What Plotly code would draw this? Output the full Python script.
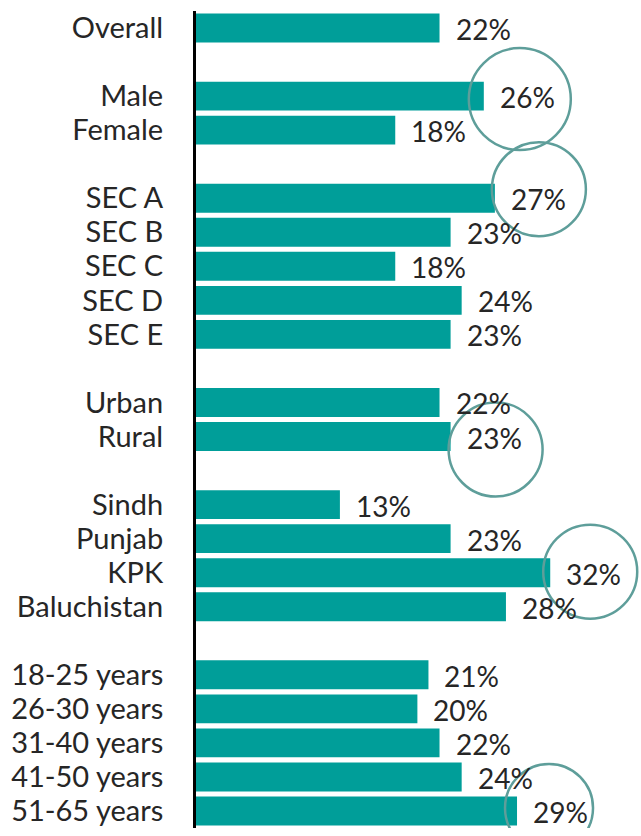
import plotly.graph_objects as go

# ---- data ----
groups = [
    ["Overall"],
    ["Male", "Female"],
    ["SEC A", "SEC B", "SEC C", "SEC D", "SEC E"],
    ["Urban", "Rural"],
    ["Sindh", "Punjab", "KPK", "Baluchistan"],
    ["18-25 years", "26-30 years", "31-40 years", "41-50 years", "51-65 years"],
]
values = {
    "Overall": 22,
    "Male": 26, "Female": 18,
    "SEC A": 27, "SEC B": 23, "SEC C": 18, "SEC D": 24, "SEC E": 23,
    "Urban": 22, "Rural": 23,
    "Sindh": 13, "Punjab": 23, "KPK": 32, "Baluchistan": 28,
    "18-25 years": 21, "26-30 years": 20, "31-40 years": 22, "41-50 years": 24, "51-65 years": 29,
}
highlighted = ["Male", "SEC A", "Rural", "KPK", "51-65 years"]

# ---- style ----
BAR = "#009E99"
RING = "#5E9E9A"
TXT = "#262626"
FONT = "Lato"
FS = 29
# circle pixel offsets (dx, dy, r) relative to bar end, per highlighted category
ring_style = {
    "Male": (36, 3, 51),
    "SEC A": (44, -9, 47),
    "Rural": (45, 13, 47),
    "KPK": (40, -1, 47),
    "51-65 years": (32, -3, 44),
}

# build categories with spacer rows between groups
cats, xs = [], []
for gi, g in enumerate(groups):
    if gi > 0:
        sp = "\u200b" * gi
        cats.append(sp)
        xs.append(None)
    for c in g:
        cats.append(c)
        xs.append(values[c])
real_cats = [c for g in groups for c in g]

fig = go.Figure()
fig.add_trace(go.Bar(
    y=cats, x=xs, orientation="h",
    marker=dict(color=BAR, line=dict(width=0)),
    width=0.85, hoverinfo="skip",
))

for c in values:
    fig.add_annotation(
        x=values[c], y=c, xref="x", yref="y",
        text=f"{values[c]}%", showarrow=False,
        xanchor="left", yanchor="middle", xshift=14, yshift=-1,
        font=dict(family=FONT, size=FS - 1, color=TXT),
    )

for c in highlighted:
    dx, dy, r = ring_style[c]
    fig.add_shape(
        type="circle", xref="x", yref="y",
        xsizemode="pixel", ysizemode="pixel",
        xanchor=values[c], yanchor=c,
        x0=dx - r, x1=dx + r, y0=-dy - r, y1=-dy + r,
        line=dict(color=RING, width=2.5), fillcolor="rgba(0,0,0,0)",
        layer="above",
    )

fig.update_layout(
    width=641, height=836,
    margin=dict(l=196, r=0, t=11, b=8),
    plot_bgcolor="white", paper_bgcolor="white",
    showlegend=False,
    bargap=0.15,
    xaxis=dict(range=[0, 40.2], visible=False, fixedrange=True, automargin=False),
    yaxis=dict(
        type="category", categoryorder="array", categoryarray=cats,
        range=[len(cats) - 0.5, -0.5], automargin=False,
        tickmode="array", tickvals=real_cats, ticktext=real_cats,
        showline=True, linecolor="black", linewidth=3,
        showgrid=False, zeroline=False, ticks="",
        ticklabelstandoff=24, fixedrange=True,
        tickfont=dict(family=FONT, size=FS, color=TXT),
    ),
)

fig.write_html("out.html", config={"displayModeBar": False},
               post_script="document.body.style.margin='0';")
